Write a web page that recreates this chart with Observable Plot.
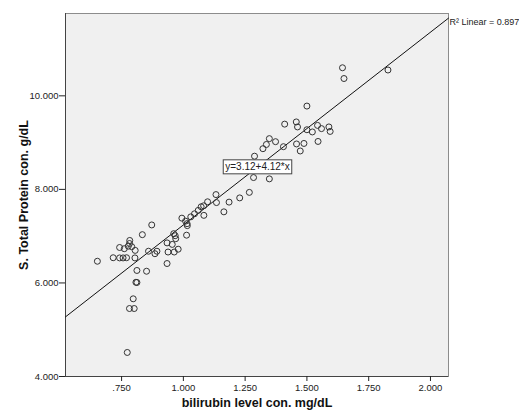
<!DOCTYPE html>
<html><head><meta charset="utf-8">
<style>
body{margin:0;background:#fff;}
#chart svg{font-family: Arial, "Liberation Sans", sans-serif;}
</style>
<script src="https://cdn.jsdelivr.net/npm/d3@7"></script>
<script src="https://cdn.jsdelivr.net/npm/@observablehq/plot@0.6"></script>
</head><body><div id="chart"></div>
<script>
const bilirubin = [0.652,0.716,0.742,0.756,0.770,0.742,0.761,0.777,0.783,0.782,0.791,0.805,0.804,0.812,0.808,0.812,0.797,0.782,0.801,0.773,
0.834,0.851,0.872,0.859,0.885,0.893,0.934,0.938,0.934,0.955,0.963,0.979,0.961,0.967,0.969,0.994,1.009,1.015,1.016,1.013,
1.030,1.045,1.060,1.072,1.083,1.082,1.098,1.132,1.134,1.164,1.185,1.228,1.267,1.284,1.348,1.288,1.322,1.336,1.348,1.373,
1.405,1.410,1.457,1.462,1.458,1.473,1.488,1.500,1.500,1.522,1.543,1.559,1.589,1.594,1.545,1.644,1.650,1.828];
const protein = [6.464,6.539,6.535,6.535,6.539,6.758,6.732,6.786,6.908,6.843,6.775,6.696,6.535,6.267,6.014,6.010,5.661,5.453,5.453,4.514,
7.032,6.250,7.240,6.678,6.625,6.678,6.415,6.661,6.856,6.824,6.661,6.721,7.053,7.010,6.946,7.385,7.321,7.268,7.225,7.021,
7.413,7.478,7.550,7.628,7.445,7.649,7.735,7.889,7.718,7.520,7.728,7.818,7.936,8.253,8.225,8.710,8.870,8.960,9.085,9.020,
8.913,9.395,9.442,9.335,8.971,8.821,8.982,9.781,9.275,9.228,9.368,9.299,9.335,9.239,9.025,10.600,10.370,10.552];
const xTicks = [0.75, 1.0, 1.25, 1.5, 1.75, 2.0];
const yTicks = [4, 6, 8, 10];
const fitIntercept = 3.12;
const fitSlope = 4.12;
const rSquared = 0.897;
const xLabel = "bilirubin level con. mg/dL";
const yLabel = "S. Total Protein con. g/dL";
const equationAt = 1.30;

const points = bilirubin.map((b, i) => ({b, p: protein[i]}));
const xDomain = [0.523, 2.073];
const yDomain = [4, 11.76];
const fitLine = xDomain.map(x => ({x, y: fitIntercept + fitSlope * x}));
const fmt = d3.format(".3f");
const eqText = `y=${fitIntercept}+${fitSlope}*x`;

const chart = Plot.plot({
  width: 519, height: 414,
  marginLeft: 65, marginRight: 71, marginTop: 13, marginBottom: 38,
  style: {fontFamily: 'Arial, "Liberation Sans", sans-serif', fontSize: "9.5px", color: "#222", background: "#fff", overflow: "visible"},
  x: {domain: xDomain},
  y: {domain: yDomain},
  marks: [
    Plot.frame({fill: "#f0f0f0", stroke: "#8c8c8c"}),
    Plot.ruleX([xDomain[0]], {stroke: "#444"}),
    Plot.ruleY([yDomain[0]], {stroke: "#444"}),
    Plot.axisX({ticks: xTicks, tickFormat: d => fmt(d).replace(/^0/, ""), tickSize: 5, tickPadding: 3,
      label: xLabel, labelAnchor: "center", labelOffset: 30, labelArrow: "none"}),
    Plot.axisY({ticks: yTicks, tickFormat: fmt, tickSize: 6, tickPadding: 1,
      label: yLabel, labelAnchor: "center", labelOffset: 46, labelArrow: "none"}),
    Plot.line(fitLine, {x: "x", y: "y", stroke: "#111", strokeWidth: 1}),
    Plot.dot(points, {x: "b", y: "p", r: 3, stroke: "#333", strokeWidth: 1, fill: "none"}),
    Plot.text([{x: xDomain[1], y: fitIntercept + fitSlope * xDomain[1]}], {x: "x", y: "y",
      text: () => "R\u00b2 Linear = " + rSquared, textAnchor: "start", lineAnchor: "top", dx: 1, fontSize: 9, fill: "#222"}),
    Plot.text([{x: equationAt, y: fitIntercept + fitSlope * equationAt}], {x: "x", y: "y",
      text: () => eqText, fontSize: 10, fill: "#222", dy: 0})
  ]
});
document.getElementById("chart").appendChild(chart);

// style axis titles, strip any arrows
[xLabel, yLabel].forEach(lbl => {
  chart.querySelectorAll("text").forEach(t => {
    if (t.textContent.replace(/[\u2190-\u2193]/g, "").trim() === lbl) {
      t.textContent = lbl;
      t.setAttribute("font-weight", "bold");
      t.setAttribute("font-size", "12.5");
      t.setAttribute("fill", "#111");
    }
  });
});
// box behind the equation
chart.querySelectorAll("text").forEach(t => {
  if (t.textContent === eqText) {
    const bb = t.getBBox();
    const rect = document.createElementNS("http://www.w3.org/2000/svg", "rect");
    rect.setAttribute("x", bb.x - 2);
    rect.setAttribute("y", bb.y - 1.5);
    rect.setAttribute("width", bb.width + 4);
    rect.setAttribute("height", bb.height + 3);
    rect.setAttribute("fill", "#fff");
    rect.setAttribute("stroke", "#444");
    rect.setAttribute("transform", t.getAttribute("transform") || "");
    t.parentNode.insertBefore(rect, t);
  }
});
</script></body></html>
